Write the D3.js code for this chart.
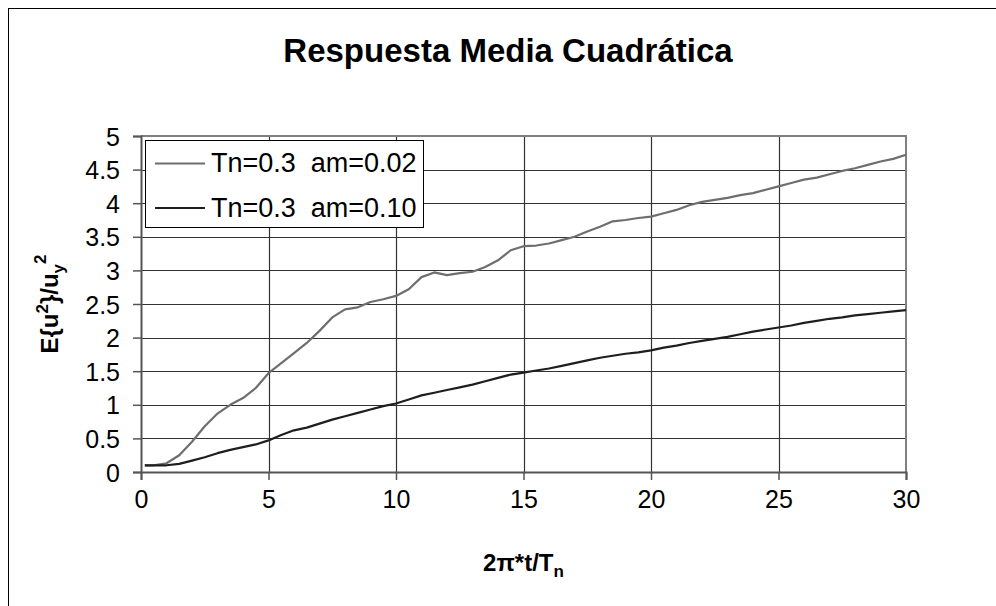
<!DOCTYPE html>
<html>
<head>
<meta charset="utf-8">
<script src="https://cdn.jsdelivr.net/npm/d3@7"></script>
<style>
  body { margin: 0; background: #fff; }
  svg { display: block; font-family: "Liberation Sans", Arial, sans-serif; }
</style>
</head>
<body>
<svg id="chart" width="996" height="606"></svg>
<script>
// x positions shared by both series
var xs = [0.15, 0.5, 1, 1.5, 2, 2.5, 3, 3.5, 4, 4.5, 5, 5.5, 6, 6.5, 7, 7.5, 8, 8.5, 9, 9.5,
  10, 10.5, 11, 11.5, 12, 12.5, 13, 13.5, 14, 14.5, 15, 15.5, 16, 16.5, 17, 17.5, 18, 18.5, 19, 19.5,
  20, 20.5, 21, 21.5, 22, 22.5, 23, 23.5, 24, 24.5, 25, 25.5, 26, 26.5, 27, 27.5, 28, 28.5, 29, 29.5, 30];

var am002 = [0.1, 0.1, 0.13, 0.25, 0.45, 0.68, 0.87, 1.0, 1.1, 1.25, 1.47, 1.62, 1.77, 1.92, 2.1, 2.3, 2.42, 2.45, 2.53, 2.57,
  2.62, 2.72, 2.9, 2.97, 2.93, 2.96, 2.98, 3.05, 3.15, 3.3, 3.36, 3.37, 3.4, 3.45, 3.5, 3.58, 3.65, 3.73, 3.75, 3.78,
  3.8, 3.85, 3.9, 3.97, 4.02, 4.05, 4.08, 4.12, 4.15, 4.2, 4.25, 4.3, 4.35, 4.38, 4.43, 4.48, 4.52, 4.57, 4.62, 4.66, 4.72];

var am010 = [0.1, 0.1, 0.1, 0.12, 0.17, 0.22, 0.28, 0.33, 0.37, 0.41, 0.47, 0.55, 0.62, 0.66, 0.72, 0.78, 0.83, 0.88, 0.93, 0.98,
  1.02, 1.08, 1.14, 1.18, 1.22, 1.26, 1.3, 1.35, 1.4, 1.45, 1.48, 1.51, 1.54, 1.58, 1.62, 1.66, 1.7, 1.73, 1.76, 1.78,
  1.81, 1.85, 1.88, 1.92, 1.95, 1.98, 2.01, 2.05, 2.09, 2.12, 2.15, 2.18, 2.22, 2.25, 2.28, 2.3, 2.33, 2.35, 2.37, 2.39, 2.41];

var seriesNames = ['Tn=0.3  am=0.02', 'Tn=0.3  am=0.10'];
var seriesColors = ['#6e6e6e', '#1e1e1e'];
var xTicks = [0, 5, 10, 15, 20, 25, 30];
var yTicks = [0, 0.5, 1, 1.5, 2, 2.5, 3, 3.5, 4, 4.5, 5];

var svg = d3.select('#chart');
var pLeft = 141, pRight = 906, pTop = 136, pBottom = 472;

var x = d3.scaleLinear().domain([0, 30]).range([pLeft, pRight]);
var y = d3.scaleLinear().domain([0, 5]).range([pBottom, pTop]);

// outer chart frame
svg.append('rect')
  .attr('x', 8.5).attr('y', 8.5)
  .attr('width', 1100).attr('height', 800)
  .attr('fill', 'none').attr('stroke', '#000').attr('stroke-width', 1);

svg.append('text')
  .attr('x', 508).attr('y', 62)
  .attr('text-anchor', 'middle')
  .attr('font-size', 33).attr('font-weight', 'bold')
  .text('Respuesta Media Cuadrática');

// grid
svg.append('g').selectAll('line').data(yTicks.slice(1, -1)).join('line')
  .attr('x1', pLeft).attr('x2', pRight)
  .attr('y1', function(d) { return Math.round(y(d)) + 0.5; })
  .attr('y2', function(d) { return Math.round(y(d)) + 0.5; })
  .attr('stroke', '#333').attr('stroke-width', 1.2);
svg.append('g').selectAll('line').data(xTicks.slice(1, -1)).join('line')
  .attr('y1', pTop).attr('y2', pBottom)
  .attr('x1', function(d) { return Math.round(x(d)) + 0.5; })
  .attr('x2', function(d) { return Math.round(x(d)) + 0.5; })
  .attr('stroke', '#333').attr('stroke-width', 1.2);

// plot border (top/right)
svg.append('path')
  .attr('d', 'M' + pLeft + ',' + pTop + 'H' + pRight + 'V' + pBottom)
  .attr('fill', 'none').attr('stroke', '#808080').attr('stroke-width', 2);

// axes
var xAxis = d3.axisBottom(x).tickValues(xTicks).tickSize(8).tickPadding(10);
var yAxis = d3.axisLeft(y).tickValues(yTicks).tickSize(8).tickPadding(13)
  .tickFormat(function(d) { return String(d); });

var gx = svg.append('g').attr('transform', 'translate(0,' + pBottom + ')').call(xAxis);
var gy = svg.append('g').attr('transform', 'translate(' + pLeft + ',0)').call(yAxis);
[gx, gy].forEach(function(g) {
  g.attr('font-size', 25).attr('font-family', '"Liberation Sans", Arial, sans-serif');
  g.select('.domain').attr('stroke', '#555').attr('stroke-width', 2);
  g.selectAll('.tick line').attr('stroke', '#555').attr('stroke-width', 1.5);
  g.selectAll('.tick text').attr('fill', '#000');
});
gx.selectAll('.tick text').attr('dy', '0.71em');
gy.selectAll('.tick text').attr('dy', '0.36em');

// series
var line = d3.line()
  .x(function(d, i) { return x(xs[i]); })
  .y(function(d) { return y(d); });

[am002, am010].forEach(function(vals, i) {
  svg.append('path')
    .datum(vals)
    .attr('d', line)
    .attr('fill', 'none')
    .attr('stroke', seriesColors[i])
    .attr('stroke-width', 2.2)
    .attr('stroke-linejoin', 'round');
});

// axis titles
var xt = svg.append('text')
  .attr('x', (pLeft + pRight) / 2).attr('y', 571)
  .attr('text-anchor', 'middle')
  .attr('font-size', 24).attr('font-weight', 'bold');
xt.append('tspan').text('2π*t/T');
xt.append('tspan').attr('font-size', 17).attr('dy', 6).text('n');

var yt = svg.append('text')
  .attr('transform', 'translate(58,' + ((pTop + pBottom) / 2) + ') rotate(-90)')
  .attr('text-anchor', 'middle')
  .attr('font-size', 24).attr('font-weight', 'bold');
yt.append('tspan').text('E{u');
yt.append('tspan').attr('font-size', 17).attr('dy', -10).text('2');
yt.append('tspan').attr('dy', 10).text('}/u');
yt.append('tspan').attr('font-size', 17).attr('dy', 6).text('y');
yt.append('tspan').attr('font-size', 17).attr('dy', -18).text('2');

// legend
var lg = svg.append('g');
lg.append('rect')
  .attr('x', 145.5).attr('y', 140.5).attr('width', 278).attr('height', 87)
  .attr('fill', '#fff').attr('stroke', '#000').attr('stroke-width', 1);
seriesNames.forEach(function(name, i) {
  var ly = 163.5 + i * 44.5;
  lg.append('line')
    .attr('x1', 155).attr('x2', 205).attr('y1', ly).attr('y2', ly)
    .attr('stroke', seriesColors[i]).attr('stroke-width', 2.2);
  lg.append('text')
    .attr('x', 211).attr('y', ly + 8.5)
    .attr('font-size', 27)
    .attr('xml:space', 'preserve')
    .style('white-space', 'pre')
    .text(name);
});
</script>
</body>
</html>
